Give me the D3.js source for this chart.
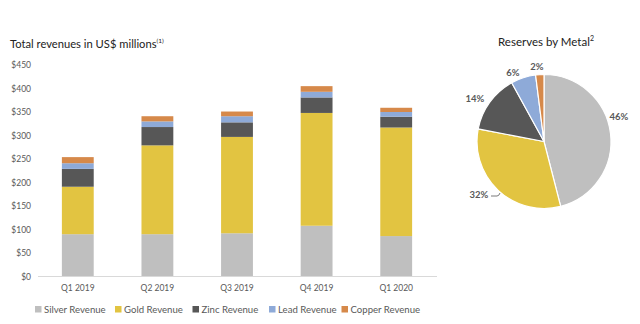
<!DOCTYPE html>
<html>
<head>
<meta charset="utf-8">
<script src="https://cdn.jsdelivr.net/npm/d3@7"></script>
<style>
  body { margin: 0; background: #fff; }
  text { font-family: Lato, "Open Sans", sans-serif; }
</style>
</head>
<body>
<div class="canvas"></div>
<script>
const quarters = ["Q1 2019", "Q2 2019", "Q3 2019", "Q4 2019", "Q1 2020"];
const silver = [90, 90, 92, 108, 86];
const gold = [101, 189, 205, 240, 231];
const zinc = [38, 39, 31, 33, 23];
const lead = [12, 12, 13, 12, 10];
const copper = [13, 11, 10, 12, 9];
const seriesNames = ["Silver Revenue", "Gold Revenue", "Zinc Revenue", "Lead Revenue", "Copper Revenue"];
const yTicks = [0, 50, 100, 150, 200, 250, 300, 350, 400, 450];

const metals = ["Silver", "Gold", "Zinc", "Lead", "Copper"];
const reserves = [46, 32, 14, 6, 2];

const colors = ["#bfbfbf", "#e2c441", "#575757", "#8eaad8", "#d6894a"];
const textGray = "#595959";

const dims = { width: 640, height: 324 };
const svg = d3.select(".canvas").append("svg")
  .attr("width", dims.width)
  .attr("height", dims.height);

// titles
const t1 = svg.append("text").attr("x", 10).attr("y", 48)
  .attr("font-size", 11.2).attr("fill", "#222")
  .text("Total revenues in US$ millions");
t1.append("tspan").attr("font-size", 6.5).attr("dy", -5).text("(1)");

const t2 = svg.append("text").attr("x", 546).attr("y", 46)
  .attr("text-anchor", "middle").attr("font-size", 11.5).attr("fill", "#222")
  .text("Reserves by Metal");
t2.append("tspan").attr("font-size", 7).attr("dy", -5).text("2");

// stacked bars
const rows = quarters.map((q, i) => ({
  q, s0: silver[i], s1: gold[i], s2: zinc[i], s3: lead[i], s4: copper[i]
}));
const stack = d3.stack().keys(["s0", "s1", "s2", "s3", "s4"])(rows);

const x = d3.scaleBand().domain(quarters).range([38, 436]).paddingInner(0.6).paddingOuter(0.3);
const y = d3.scaleLinear().domain([0, 450]).range([276.5, 65]);

svg.append("g")
  .selectAll("g")
  .data(stack)
  .join("g")
  .attr("fill", (d, i) => colors[i])
  .selectAll("rect")
  .data(d => d)
  .join("rect")
  .attr("x", d => x(d.data.q))
  .attr("width", x.bandwidth())
  .attr("y", d => y(d[1]))
  .attr("height", d => y(d[0]) - y(d[1]));

// y axis labels
svg.append("g")
  .selectAll("text")
  .data(yTicks)
  .join("text")
  .attr("x", 31)
  .attr("y", d => y(d) + 3)
  .attr("text-anchor", "end")
  .attr("font-size", 8.5)
  .attr("fill", textGray)
  .text(d => "$" + d);

// x axis
svg.append("line")
  .attr("x1", 38).attr("x2", 437)
  .attr("y1", 276.5).attr("y2", 276.5)
  .attr("stroke", "#d9d9d9").attr("stroke-width", 1);

svg.append("g")
  .selectAll("text")
  .data(quarters)
  .join("text")
  .attr("x", d => x(d) + x.bandwidth() / 2)
  .attr("y", 291)
  .attr("text-anchor", "middle")
  .attr("font-size", 8.5)
  .attr("fill", textGray)
  .text(d => d);

// legend
const legendX = [35, 115, 192.5, 269, 341.5];
const legend = svg.append("g")
  .selectAll("g")
  .data(seriesNames)
  .join("g")
  .attr("transform", (d, i) => `translate(${legendX[i]}, 309.5)`);
legend.append("rect").attr("x", 0).attr("y", -3.5).attr("width", 6.5).attr("height", 6.5)
  .attr("fill", (d, i) => colors[i]);
legend.append("text").attr("x", 9).attr("y", 3.5)
  .attr("font-size", 9.6).attr("fill", textGray)
  .text(d => d);

// pie
const cx = 544, cy = 141.5, r = 67;
const pie = d3.pie().sort(null).value(d => d)(reserves);
const arc = d3.arc().innerRadius(0).outerRadius(r);
const pg = svg.append("g").attr("transform", `translate(${cx},${cy})`);
pg.selectAll("path")
  .data(pie)
  .join("path")
  .attr("d", arc)
  .attr("fill", (d, i) => colors[i])
  .attr("stroke", "#fff")
  .attr("stroke-width", 1.2);

const labelPos = [[619, 120], [479, 198], [475, 102], [513, 76], [537, 70]];
svg.append("g")
  .selectAll("text")
  .data(reserves)
  .join("text")
  .attr("x", (d, i) => labelPos[i][0])
  .attr("y", (d, i) => labelPos[i][1])
  .attr("text-anchor", "middle")
  .attr("font-size", 9.5)
  .attr("font-weight", "bold")
  .attr("fill", textGray)
  .text(d => d + "%");

// leader line for 32%
svg.append("path")
  .attr("d", "M491,196 L497,196 Q499,196 500,193")
  .attr("fill", "none")
  .attr("stroke", textGray)
  .attr("stroke-width", 0.8);
</script>
</body>
</html>
